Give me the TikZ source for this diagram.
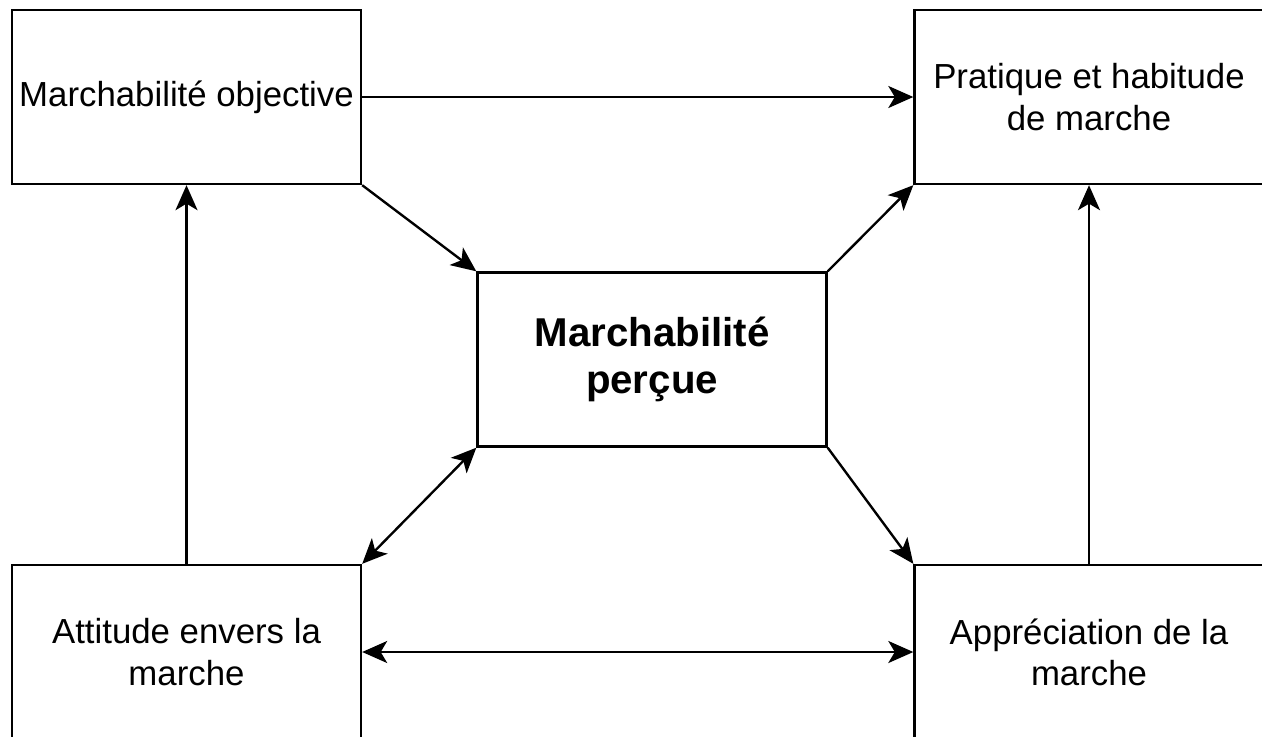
\documentclass[tikz,border=0pt]{standalone}
\usepackage{fontspec}
\setmainfont{Liberation Sans}
\usetikzlibrary{arrows.meta, positioning}

\begin{document}
\begin{tikzpicture}[font=\fontsize{19.8}{23.5}\selectfont, line width=1.35pt,
	bloc/.style={draw, minimum width=6.98cm, minimum height=3.48cm, align=center, inner sep=0pt},
	fleche/.style={-{Stealth[length=0.5cm, width=0.44cm, inset=0.13cm]}},
	doublefleche/.style={{Stealth[length=0.5cm, width=0.44cm, inset=0.13cm]}-{Stealth[length=0.5cm, width=0.44cm, inset=0.13cm]}}]
	\useasboundingbox (0,0) rectangle (25.24,-14.72);
	\node[bloc] (obj) at (3.73,-1.94) {Marchabilité objective};
	\node[bloc] (prat) at (21.78,-1.94) {Pratique et habitude\\de marche};
	\node[bloc, font=\bfseries\fontsize{22.9}{26.5}\selectfont] (perc) at (13.04,-7.19) {Marchabilité\\perçue};
	\node[bloc] (att) at (3.73,-13.04) {Attitude envers la\\marche};
	\node[bloc] (app) at (21.78,-13.04) {Appréciation de la\\marche};
	\foreach \a/\b in {obj/prat, obj.south east/perc.north west, perc.north east/prat.south west, perc.south east/app.north west, att/obj, app/prat} {
		\draw[fleche] (\a) -- (\b);
	}
	\draw[doublefleche] (perc.south west) -- (att.north east);
	\draw[doublefleche] (att) -- (app);
\end{tikzpicture}
\end{document}
